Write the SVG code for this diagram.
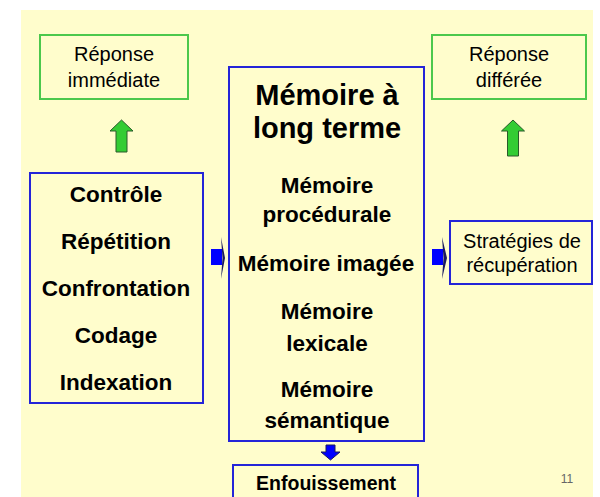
<svg xmlns="http://www.w3.org/2000/svg" width="600" height="497" viewBox="0 0 600 497">
<style>
.bg{fill:#FFFDCC}
.gbox{fill:none;stroke:#4CC84C;stroke-width:2}
.bbox{fill:none;stroke:#2424D8;stroke-width:2}
text{font-family:"Liberation Sans",Arial,sans-serif;fill:#000;text-anchor:middle}
.r{font-size:20px}
.b{font-size:22.5px;font-weight:bold}
.t{font-size:29px;font-weight:bold}
.e{font-size:19.5px;font-weight:bold}
.garrow{fill:#33CC33;stroke:#2A5A2A;stroke-width:1}
.barrow{fill:#0000FF}
.bhead{fill:#1A1A60}
</style>
<rect x="0" y="0" width="600" height="497" fill="#FFFFFF"/>
<rect class="bg" x="21" y="10" width="572" height="487"/>

<g id="reponse-immediate">
<rect class="gbox" x="40" y="35" width="148" height="64"/>
<text class="r" x="114" y="61">Réponse</text>
<text class="r" x="114" y="87">immédiate</text>
</g>

<g id="reponse-differee">
<rect class="gbox" x="432" y="35" width="154" height="64"/>
<text class="r" x="509" y="61">Réponse</text>
<text class="r" x="509" y="87">différée</text>
</g>

<g id="processus">
<rect class="bbox" x="30" y="173" width="173" height="230"/>
<text class="b" x="116" y="202">Contrôle</text>
<text class="b" x="116" y="249">Répétition</text>
<text class="b" x="116" y="296">Confrontation</text>
<text class="b" x="116" y="343">Codage</text>
<text class="b" x="116" y="390">Indexation</text>
</g>

<g id="memoire-long-terme">
<rect class="bbox" x="229" y="67" width="195" height="374"/>
<text class="t" x="327" y="105">Mémoire à</text>
<text class="t" x="327" y="138">long terme</text>
<text class="b" x="327" y="193">Mémoire</text>
<text class="b" x="327" y="222">procédurale</text>
<text class="b" x="326" y="271">Mémoire imagée</text>
<text class="b" x="327" y="319">Mémoire</text>
<text class="b" x="327" y="351">lexicale</text>
<text class="b" x="327" y="397">Mémoire</text>
<text class="b" x="327" y="428">sémantique</text>
</g>

<g id="strategies">
<rect class="bbox" x="450" y="221" width="142" height="63"/>
<text class="r" x="522" y="248">Stratégies de</text>
<text class="r" x="522" y="272">récupération</text>
</g>

<g id="enfouissement">
<rect class="bbox" x="233" y="465" width="185" height="40"/>
<text class="e" x="326" y="490">Enfouissement</text>
</g>

<g id="connectors">
<polygon class="garrow" points="121.5,120 133,131 127,131 127,152 116,152 116,131 110,131"/>
<polygon class="garrow" points="513,120 524.5,131 518.5,131 518.5,156 507.5,156 507.5,131 501.5,131"/>
<rect class="barrow" x="211" y="249" width="11" height="16"/>
<polygon class="bhead" points="221,237 225,258 221,279 222.5,258"/>
<rect class="barrow" x="432" y="249" width="11" height="16"/>
<polygon class="bhead" points="442,237 447,258 442,279 443.5,258"/>
<polygon points="326,445 335,445 335,452 340,452 330.5,460 321,452 326,452" fill="#0000FF" stroke="#1A1A60" stroke-width="1"/>
</g>

<text x="567" y="483" style="font-size:12px;font-family:'Liberation Sans Narrow','Liberation Sans',sans-serif;fill:#666">11</text>
</svg>
